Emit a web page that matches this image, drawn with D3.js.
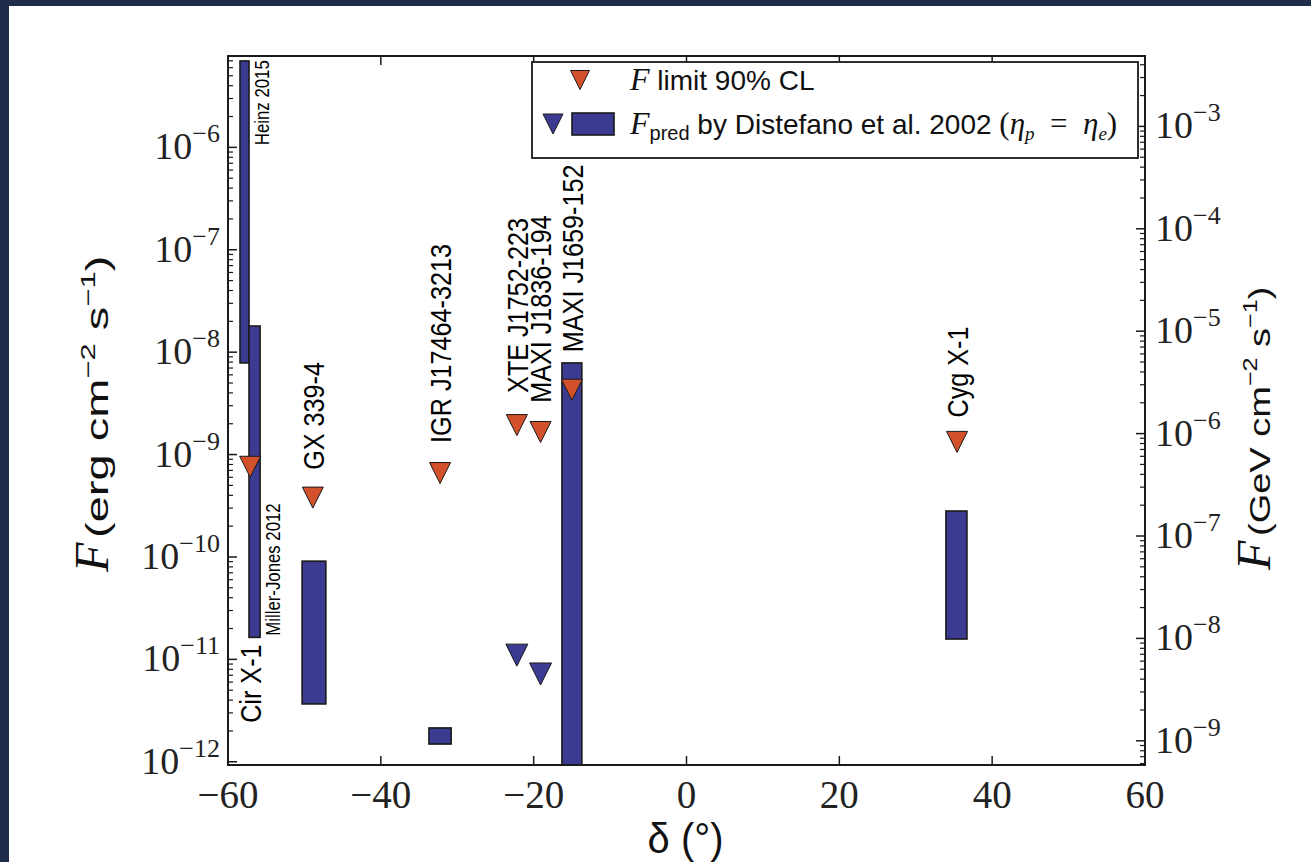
<!DOCTYPE html>
<html>
<head>
<meta charset="utf-8">
<script src="https://cdn.jsdelivr.net/npm/d3@7"></script>
<style>
  html, body { margin: 0; padding: 0; background: #1f2c4b; }
  svg { display: block; }
  .serif { font-family: "Liberation Serif", "DejaVu Serif", serif; }
  .sans { font-family: "Liberation Sans", Arial, sans-serif; }
</style>
</head>
<body>
<svg id="chart" width="1311" height="862"></svg>
<script>
// Upper limits (90% CL) and predicted fluxes per source.
var sources = ['Cir X-1', 'GX 339-4', 'IGR J17464-3213', 'XTE J1752-223',
               'MAXI J1836-194', 'MAXI J1659-152', 'Cyg X-1'];
var decl = [-57.1, -48.9, -32.25, -22.2, -19.1, -15.0, 35.4];
var limitF = [7.6e-10, 3.8e-10, 6.6e-10, 1.94e-9, 1.66e-9, 4.3e-9, 1.33e-9];
var labelF = [2.4e-12, 7.1e-10, 1.3e-9, 4.0e-9, 3.2e-9, 1.0e-8, 2.3e-9];

// predicted flux upper values drawn as blue triangles
var predLimSrc = ['XTE J1752-223', 'MAXI J1836-194'];
var predLimF = [1.1e-11, 7.2e-12];

// predicted flux ranges drawn as bars: [dec from, dec to], [F low, F high]
var predBarSrc = ['Cir X-1 (Heinz 2015)', 'Cir X-1 (Miller-Jones 2012)', 'GX 339-4',
                  'IGR J17464-3213', 'MAXI J1659-152', 'Cyg X-1'];
var predBarDec = [[-58.43, -57.25], [-57.25, -55.8], [-50.3, -47.2],
                  [-33.7, -30.8], [-16.3, -13.7], [33.95, 36.7]];
var predBarF = [[7.85e-9, 6.98e-6], [1.64e-11, 1.8e-8], [3.67e-12, 9.1e-11],
                [1.49e-12, 2.14e-12], [1e-13, 7.85e-9], [1.58e-11, 2.81e-10]];

// small reference notes next to the Cir X-1 bars
var noteText = ['Heinz 2015', 'Miller-Jones 2012'];
var noteDec = [-55.6, -54.2];
var noteF = [1.05e-6, 1.7e-11];

var xTicks = [-60, -40, -20, 0, 20, 40, 60];
var yTicksLeft = [-12, -11, -10, -9, -8, -7, -6];
var yTicksRight = [-9, -8, -7, -6, -5, -4, -3];
var ERG_TO_GEV = 624.15;

(function () {
    var svg = d3.select('#chart');
    var W = 1311, H = 862;
    var L = 228, R = 1145, T = 56, B = 765;
    var ORANGE = '#d2512a', BLUE = '#3b3b91', INK = '#1a1a1a';
    var COND = 0.84;   // labels in the figure use a narrow face

    svg.append('rect').attr('x', 0).attr('y', 0).attr('width', W).attr('height', H).attr('fill', '#1f2c4b');
    svg.append('rect').attr('x', 9).attr('y', 6).attr('width', W - 9).attr('height', H - 6).attr('fill', '#fff');

    var x = d3.scaleLinear().domain([-60, 60]).range([L, R]);
    var y = d3.scaleLog().domain([9.3e-13, 7.8e-6]).range([B, T]);
    var yR = d3.scaleLog().domain([9.3e-13 * ERG_TO_GEV, 7.8e-6 * ERG_TO_GEV]).range([B, T]);

    svg.append('defs').append('clipPath').attr('id', 'plotclip')
        .append('rect').attr('x', L).attr('y', T).attr('width', R - L).attr('height', B - T);

    var gData = svg.append('g').attr('clip-path', 'url(#plotclip)');
    var gAxis = svg.append('g');
    var gText = svg.append('g');

    function tri(cx, cy, s) {
        return 'M' + (cx - s) + ',' + (cy - s) + 'L' + (cx + s) + ',' + (cy - s) + 'L' + cx + ',' + (cy + s) + 'Z';
    }

    // bars
    predBarSrc.forEach(function (name, i) {
        var x0 = x(predBarDec[i][0]), x1 = x(predBarDec[i][1]);
        var y0 = y(predBarF[i][1]), y1 = y(predBarF[i][0]);
        gData.append('rect')
            .attr('x', x0).attr('y', y0).attr('width', x1 - x0).attr('height', y1 - y0)
            .attr('fill', BLUE).attr('stroke', INK).attr('stroke-width', 1.6);
    });

    // predicted limits
    predLimSrc.forEach(function (name, i) {
        var k = sources.indexOf(name);
        gData.append('path').attr('d', tri(x(decl[k]), y(predLimF[i]), 11))
            .attr('fill', BLUE).attr('stroke', INK).attr('stroke-width', 1);
    });

    // measured upper limits
    sources.forEach(function (name, i) {
        gData.append('path').attr('d', tri(x(decl[i]), y(limitF[i]), 10.5))
            .attr('fill', ORANGE).attr('stroke', INK).attr('stroke-width', 1);
    });

    // source names, rotated
    sources.forEach(function (name, i) {
        gText.append('g')
            .attr('transform', 'translate(' + x(decl[i]) + ',' + y(labelF[i]) + ') rotate(-90) scale(' + COND + ',1)')
            .append('text').attr('class', 'sans')
            .attr('font-size', 30).attr('dy', '0.36em').attr('fill', '#000')
            .text(name);
    });
    noteText.forEach(function (t, i) {
        gText.append('g')
            .attr('transform', 'translate(' + x(noteDec[i]) + ',' + y(noteF[i]) + ') rotate(-90) scale(' + COND + ',1)')
            .append('text').attr('class', 'sans')
            .attr('font-size', 20).attr('dy', '0.36em').attr('fill', '#000')
            .text(t);
    });

    // frame
    gAxis.append('rect').attr('x', L).attr('y', T).attr('width', R - L).attr('height', B - T)
        .attr('fill', 'none').attr('stroke', INK).attr('stroke-width', 2);

    // x ticks, bottom and top, inward
    xTicks.forEach(function (v) {
        var px = x(v);
        if (v > -60 && v < 60) {
            gAxis.append('line').attr('x1', px).attr('x2', px).attr('y1', B).attr('y2', B - 9)
                .attr('stroke', INK).attr('stroke-width', 1.5);
            gAxis.append('line').attr('x1', px).attr('x2', px).attr('y1', T).attr('y2', T + 9)
                .attr('stroke', INK).attr('stroke-width', 1.5);
        }
        gAxis.append('text').attr('class', 'serif')
            .attr('x', px).attr('y', B + 43).attr('text-anchor', 'middle')
            .attr('font-size', 39).attr('fill', '#222')
            .text(v < 0 ? '\u2212' + Math.abs(v) : String(v));
    });

    function logTicks(scale, xpos, dir) {
        var dom = scale.domain();
        var lo = Math.floor(Math.log10(dom[0])), hi = Math.ceil(Math.log10(dom[1]));
        for (var e = lo; e <= hi; e++) {
            for (var m = 1; m <= 9; m++) {
                var v = m * Math.pow(10, e);
                if (v < dom[0] || v > dom[1]) continue;
                var py = scale(v);
                gAxis.append('line').attr('x1', xpos).attr('x2', xpos + dir * (m === 1 ? 9 : 5))
                    .attr('y1', py).attr('y2', py)
                    .attr('stroke', INK).attr('stroke-width', m === 1 ? 1.5 : 1.2);
            }
        }
    }
    logTicks(y, L, 1);
    logTicks(yR, R, -1);

    function powLabel(px, py, e, anchor) {
        var t = gAxis.append('text').attr('class', 'serif')
            .attr('x', px).attr('y', py + 12).attr('text-anchor', anchor)
            .attr('font-size', 38).attr('fill', '#222');
        t.append('tspan').text('10');
        t.append('tspan').attr('font-size', 26).attr('dy', -17).text('\u2212' + Math.abs(e));
    }
    yTicksLeft.forEach(function (e) { powLabel(L - 8, y(Math.pow(10, e)), e, 'end'); });
    yTicksRight.forEach(function (e) { powLabel(R + 10, yR(Math.pow(10, e)), e, 'start'); });

    // axis titles
    gText.append('g').attr('transform', 'translate(' + ((L + R) / 2 - 1) + ',853) scale(0.95,1)')
        .append('text').attr('class', 'sans')
        .attr('text-anchor', 'middle')
        .attr('font-size', 42).attr('fill', '#111').text('\u03b4 (\u00b0)');

    // F in italic serif, units in a large sans squeezed across the text, as in the figure
    function yTitle(px, py, unit, fs, sx, sy) {
        var g = gText.append('g').attr('transform', 'translate(' + px + ',' + py + ') rotate(-90)');
        g.append('text').attr('class', 'serif').attr('font-style', 'italic')
            .attr('font-size', 48).attr('fill', '#111').text('F');
        var u = g.append('g').attr('transform', 'translate(34,0) scale(' + sx + ',' + sy + ')')
            .append('text').attr('class', 'sans').attr('font-size', fs).attr('fill', '#111');
        u.append('tspan').text('(' + unit + ' cm');
        u.append('tspan').attr('font-size', fs * 0.66).attr('dy', -fs * 0.42).text('\u22122');
        u.append('tspan').attr('dy', fs * 0.42).text(' s');
        u.append('tspan').attr('font-size', fs * 0.66).attr('dy', -fs * 0.42).text('\u22121');
        u.append('tspan').attr('dy', fs * 0.42).text(')');
    }
    yTitle(108, 572, 'erg', 42, 1.12, 0.74);
    yTitle(1270, 570, 'GeV', 38, 1.0, 0.8);

    // legend
    var lg = svg.append('g');
    lg.append('rect').attr('x', 532).attr('y', 62).attr('width', 606).attr('height', 96)
        .attr('fill', '#fff').attr('stroke', INK).attr('stroke-width', 1.8);
    lg.append('path').attr('d', tri(580, 80, 9.5)).attr('fill', ORANGE).attr('stroke', INK).attr('stroke-width', 1);
    lg.append('path').attr('d', tri(553, 124, 10)).attr('fill', BLUE).attr('stroke', INK).attr('stroke-width', 1);
    lg.append('rect').attr('x', 572).attr('y', 113).attr('width', 42).attr('height', 22)
        .attr('fill', BLUE).attr('stroke', INK).attr('stroke-width', 1.6);

    var t1 = lg.append('text').attr('x', 630).attr('y', 90).attr('fill', '#111');
    t1.append('tspan').attr('class', 'serif').attr('font-style', 'italic').attr('font-size', 32).text('F');
    t1.append('tspan').attr('class', 'sans').attr('font-size', 28).text(' limit 90% CL');

    var t2 = lg.append('text').attr('x', 630).attr('y', 134).attr('fill', '#111');
    t2.append('tspan').attr('class', 'serif').attr('font-style', 'italic').attr('font-size', 32).text('F');
    t2.append('tspan').attr('class', 'sans').attr('font-size', 20).attr('dy', 6).text('pred');
    t2.append('tspan').attr('class', 'sans').attr('font-size', 28).attr('dy', -6).text(' by Distefano et al. 2002 ');
    t2.append('tspan').attr('class', 'serif').attr('font-size', 31).text('(');
    t2.append('tspan').attr('class', 'serif').attr('font-style', 'italic').attr('font-size', 31).text('\u03b7');
    t2.append('tspan').attr('class', 'serif').attr('font-style', 'italic').attr('font-size', 19).attr('dy', 6).text('p');
    t2.append('tspan').attr('class', 'serif').attr('font-size', 31).attr('dy', -6).text('\u2002=\u2002');
    t2.append('tspan').attr('class', 'serif').attr('font-style', 'italic').attr('font-size', 31).text('\u03b7');
    t2.append('tspan').attr('class', 'serif').attr('font-style', 'italic').attr('font-size', 19).attr('dy', 6).text('e');
    t2.append('tspan').attr('class', 'serif').attr('font-size', 31).attr('dy', -6).text(')');
})();
</script>
</body>
</html>
